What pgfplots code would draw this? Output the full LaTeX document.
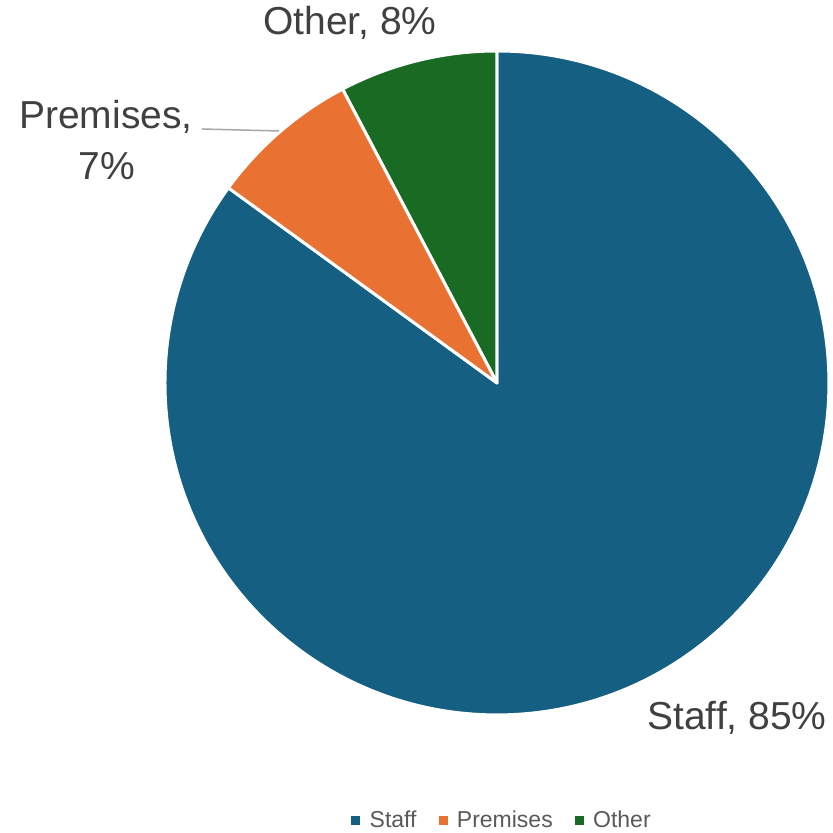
\documentclass[border=0pt]{standalone}
\usepackage{pgfplots}
\usepackage{pgfplotstable}
\pgfplotsset{compat=1.18}
\usepackage{fontspec}
\setmainfont{Liberation Sans}
\definecolor{cStaff}{HTML}{156082}
\definecolor{cPrem}{HTML}{E97132}
\definecolor{cOther}{HTML}{196B24}
\definecolor{lbl}{HTML}{404040}
\definecolor{leg}{HTML}{595959}
\pgfplotstableread{
name value
Staff 85.0
Premises 7.3
Other 7.7
}\piedata
\pgfplotstablegetelem{0}{value}\of\piedata \let\vStaff\pgfplotsretval
\pgfplotstablegetelem{1}{value}\of\piedata \let\vPrem\pgfplotsretval
\pgfplotstablegetelem{2}{value}\of\piedata \let\vOther\pgfplotsretval
\begin{document}
\begin{tikzpicture}
\begin{axis}[
  scale only axis, width=833bp, height=830bp,
  xmin=0, xmax=833, ymin=0, ymax=830,
  hide axis, clip=false,
  legend style={at={(axis cs:502,10)}, anchor=center, draw=none, fill=none,
    font=\fontsize{23bp}{27bp}\selectfont\color{leg}, legend columns=3,
    /tikz/every odd column/.append style={column sep=8bp},
    /tikz/every even column/.append style={column sep=20bp}},
  legend image code/.code={\fill[#1] (0bp,-4bp) rectangle (8bp,4bp);},
]
\path (axis cs:0,0) rectangle (axis cs:833,830);
\pgfmathsetmacro{\aOther}{90+3.6*\vOther}
\pgfmathsetmacro{\aPrem}{\aOther+3.6*\vPrem}
\pgfmathsetmacro{\aStaff}{90-3.6*\vStaff}
% Staff: clockwise from 90
\fill[cStaff, draw=white, line width=3bp, line join=round] (axis cs:497,447) -- ++(90:332bp) arc[start angle=90, end angle=\aStaff, radius=332bp] -- cycle;
\fill[cOther, draw=white, line width=3bp, line join=round] (axis cs:497,447) -- ++(90:332bp) arc[start angle=90, end angle=\aOther, radius=332bp] -- cycle;
\fill[cPrem, draw=white, line width=3bp, line join=round] (axis cs:497,447) -- ++(\aOther:332bp) arc[start angle=\aOther, end angle=\aPrem, radius=332bp] -- cycle;
\addlegendimage{cStaff}\addlegendentry{Staff}
\addlegendimage{cPrem}\addlegendentry{Premises}
\addlegendimage{cOther}\addlegendentry{Other}
\draw[color=black!35, line width=1.5bp] (axis cs:202,701) -- (axis cs:279,699);
\node[font=\fontsize{39bp}{46bp}\selectfont, text=lbl] at (axis cs:350,807) {Other, 8\%};
\node[font=\fontsize{39bp}{46bp}\selectfont, text=lbl] at (axis cs:106,713) {Premises,};
\node[font=\fontsize{39bp}{46bp}\selectfont, text=lbl] at (axis cs:107,664) {7\%};
\node[font=\fontsize{39bp}{46bp}\selectfont, text=lbl] at (axis cs:737,112) {Staff, 85\%};
\end{axis}
\end{tikzpicture}
\end{document}
